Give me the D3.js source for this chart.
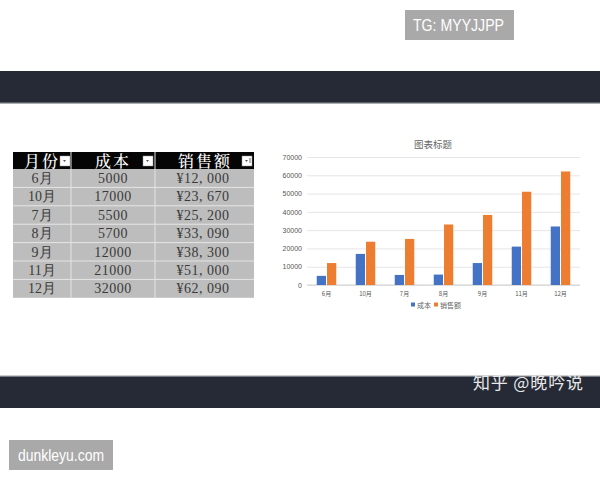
<!DOCTYPE html>
<html><head><meta charset="utf-8">
<script src="https://cdn.jsdelivr.net/npm/d3@7"></script>
<style>body{margin:0;background:#fff}svg{display:block}</style>
</head><body>
<svg id="c" width="600" height="480"></svg>
<script>
const months = ["6月","10月","7月","8月","9月","11月","12月"];
const cost = [5000,17000,5500,5700,12000,21000,32000];
const sales = [12000,23670,25200,33090,38300,51000,62090];
const salesLabels = ["¥12, 000","¥23, 670","¥25, 200","¥33, 090","¥38, 300","¥51, 000","¥62, 090"];
const headers = ["月份","成本","销售额"];
const seriesNames = ["成本","销售额"];
const yTicks = [0,10000,20000,30000,40000,50000,60000,70000];

const svg = d3.select("#c");
const cjk = "'Noto Sans CJK SC', sans-serif";

// dark bands
svg.append("rect").attr("x",0).attr("y",71).attr("width",600).attr("height",32).attr("fill","#252a36");
svg.append("rect").attr("x",0).attr("y",102).attr("width",600).attr("height",1.5).attr("fill","#5a5e66");
svg.append("rect").attr("x",0).attr("y",376).attr("width",600).attr("height",32).attr("fill","#252a36");
svg.append("rect").attr("x",0).attr("y",375.5).attr("width",600).attr("height",1.2).attr("fill","#9a9ea6");
svg.append("text").attr("x",473).attr("y",389).attr("fill","#e8e8e8")
  .attr("font-family",cjk).attr("font-size",17).attr("textLength",110).attr("lengthAdjust","spacing").text("知乎 @晚吟说");

// watermark boxes
svg.append("rect").attr("x",405).attr("y",10).attr("width",109).attr("height",30).attr("fill","#a9a9a9");
svg.append("text").attr("x",413).attr("y",31).attr("fill","#fff")
  .attr("font-family","'Liberation Sans', Arial, sans-serif").attr("font-size",16).attr("textLength",91).attr("lengthAdjust","spacingAndGlyphs").text("TG: MYYJJPP");
svg.append("rect").attr("x",9).attr("y",440).attr("width",104).attr("height",30).attr("fill","#a9a9a9");
svg.append("text").attr("x",18).attr("y",461).attr("fill","#fff")
  .attr("font-family","'Liberation Sans', Arial, sans-serif").attr("font-size",16).attr("textLength",86).attr("lengthAdjust","spacingAndGlyphs").text("dunkleyu.com");

// table
const colX = [13,71,155,254];
const headY = 152, headH = 17, rowH = 18.4;
const tbl = svg.append("g");
tbl.append("rect").attr("x",colX[0]).attr("y",headY).attr("width",colX[3]-colX[0]).attr("height",headH).attr("fill","#050505");
const rowY = d3.scaleBand().domain(d3.range(months.length)).range([headY+headH, headY+headH+rowH*months.length]);
tbl.selectAll("rect.cell").data(months).join("rect").attr("class","cell")
  .attr("x",colX[0]).attr("y",(d,i)=>rowY(i)).attr("width",colX[3]-colX[0]).attr("height",rowH).attr("fill","#bdbdbd");
tbl.selectAll("line.h").data(d3.range(1,months.length)).join("line").attr("class","h")
  .attr("x1",colX[0]).attr("x2",colX[3]).attr("y1",i=>rowY(i)).attr("y2",i=>rowY(i)).attr("stroke","#e4e4e4").attr("stroke-width",1);
tbl.selectAll("line.v").data([1,2]).join("line").attr("class","v")
  .attr("x1",i=>colX[i]).attr("x2",i=>colX[i]).attr("y1",headY).attr("y2",rowY(months.length-1)+rowH).attr("stroke","#e4e4e4").attr("stroke-width",1);
const hcx = [42,113,205];
headers.forEach((h,i)=>{
  tbl.append("text").attr("x",hcx[i]).attr("y",headY+15).attr("text-anchor","middle").attr("fill","#fff")
    .attr("font-family","'Noto Serif CJK SC','Noto Sans CJK SC',serif").attr("font-weight",500).attr("font-size",16)
    .attr("letter-spacing",2).text(h);
});
const btnX = [60,143,242];
btnX.forEach((bx,i)=>{
  tbl.append("rect").attr("x",bx).attr("y",headY+4).attr("width",10).attr("height",10).attr("fill","#fff").attr("stroke","#999").attr("stroke-width",0.5);
  tbl.append("path").attr("d",`M${bx+3},${headY+8} L${bx+6},${headY+8} L${bx+4.5},${headY+10} Z`).attr("fill","#555");
  if(i===2) tbl.append("line").attr("x1",bx+8).attr("x2",bx+8).attr("y1",headY+6).attr("y2",headY+11).attr("stroke","#444").attr("stroke-width",0.8);
});
const serifNum = "'Liberation Serif','DejaVu Serif',serif";
const rows = tbl.selectAll("g.row").data(months).join("g").attr("class","row");
rows.append("text").attr("x",hcx[0]).attr("y",(d,i)=>rowY(i)+14).attr("text-anchor","middle").attr("fill","#3a3a3a")
  .attr("font-family",serifNum).attr("font-size",14).text(d=>d);
rows.append("text").attr("x",hcx[1]).attr("y",(d,i)=>rowY(i)+14).attr("text-anchor","middle").attr("fill","#3a3a3a")
  .attr("font-family",serifNum).attr("font-size",14).attr("letter-spacing",0.5).text((d,i)=>cost[i]);
rows.append("text").attr("x",203).attr("y",(d,i)=>rowY(i)+14).attr("text-anchor","middle").attr("fill","#3a3a3a")
  .attr("font-family",serifNum).attr("font-size",14).attr("letter-spacing",0.5).text((d,i)=>salesLabels[i]);

// chart
const x0 = d3.scaleBand().domain(months).range([307,580]).paddingInner(0.5).paddingOuter(0.25);
const x1 = d3.scaleBand().domain(seriesNames).range([0,x0.bandwidth()]).paddingInner(0.1);
const y = d3.scaleLinear().domain([0,70000]).range([285,157]);
const colors = ["#4472c4","#ed7d31"];

svg.append("text").attr("x",433).attr("y",148).attr("text-anchor","middle").attr("fill","#666")
  .attr("font-family",cjk).attr("font-size",9.5).text("图表标题");

const gy = svg.append("g").attr("transform","translate(307,0)")
  .call(d3.axisLeft(y).tickValues(yTicks).tickSize(-273).tickFormat(d3.format("d")));
gy.select(".domain").remove();
gy.selectAll(".tick line").attr("stroke","#e6e6e6");
gy.selectAll(".tick text").attr("fill","#555").attr("font-family","'Liberation Sans',Arial,sans-serif").attr("font-size",7).attr("x",-5);
svg.append("line").attr("x1",307).attr("x2",580).attr("y1",y(0)).attr("y2",y(0)).attr("stroke","#d0d0d0");

const gx = svg.append("g").attr("transform",`translate(0,${y(0)})`).call(d3.axisBottom(x0).tickSize(0));
gx.select(".domain").remove();
gx.selectAll(".tick text").attr("fill","#555").attr("font-family",cjk).attr("font-size",6).attr("dy","1.3em");

const groups = svg.append("g").selectAll("g").data(months).join("g").attr("transform",d=>`translate(${x0(d)},0)`);
groups.selectAll("rect").data((d,i)=>[{s:"成本",v:cost[i]},{s:"销售额",v:sales[i]}]).join("rect")
  .attr("x",d=>x1(d.s)).attr("width",x1.bandwidth()).attr("y",d=>y(d.v)).attr("height",d=>y(0)-y(d.v))
  .attr("fill",(d,i)=>colors[i]);

const leg = [{n:"成本",x:411},{n:"销售额",x:434}];
leg.forEach((l,i)=>{
  svg.append("rect").attr("x",l.x).attr("y",302.5).attr("width",4).attr("height",4).attr("fill",colors[i]);
  svg.append("text").attr("x",l.x+6).attr("y",307.5).attr("fill","#666").attr("font-family",cjk).attr("font-size",7).text(l.n);
});
</script>
</body></html>
